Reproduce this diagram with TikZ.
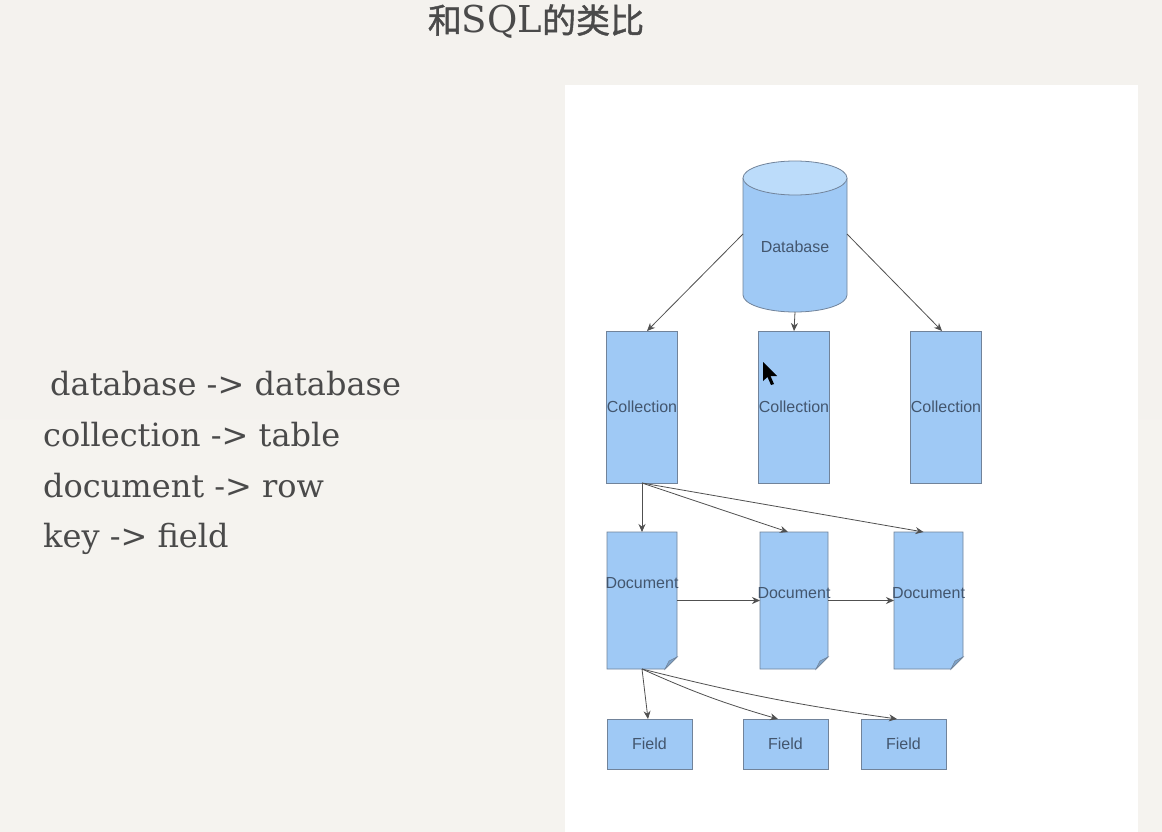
\documentclass[tikz,border=0pt]{standalone}
\usepackage{fontspec}
\setmainfont{DejaVu Serif}
\setsansfont{Liberation Sans}
\newfontfamily\cjk[FakeBold=1.2]{Noto Sans CJK SC}
\usetikzlibrary{arrows.meta,calc,backgrounds}
\definecolor{boxfill}{HTML}{9FC9F5}
\definecolor{boxtop}{HTML}{BCDCFA}
\definecolor{boxline}{HTML}{71839A}
\definecolor{boxtext}{HTML}{43566E}
\definecolor{foldcol}{HTML}{7FA3C8}
\definecolor{linecol}{HTML}{505050}
\definecolor{txtgray}{HTML}{4A4A4A}
\definecolor{bgtop}{HTML}{F4F2EE}
\definecolor{bgmid}{HTML}{E1DED8}
\definecolor{bgbot}{HTML}{F5F3EF}
\newcommand\docpath[1]{%
  \filldraw[shapestyle] (#1.north west) -- (#1.north east) -- ([yshift=12pt]#1.south east) -- ([xshift=-12pt]#1.south east) -- (#1.south west) -- cycle;
  \filldraw[foldstyle] ([yshift=12pt]#1.south east) -- ([xshift=-12pt]#1.south east) -- ([xshift=-8pt,yshift=8pt]#1.south east) -- cycle;
}
\begin{document}
\begin{tikzpicture}[x=1pt,y=-1pt,
  shapestyle/.style={fill=boxfill,draw=boxline,line width=0.8pt},
  foldstyle/.style={fill=foldcol,draw=boxline,line width=0.5pt},
  hold/.style={inner sep=0pt,outer sep=0pt,draw=none},
  lbl/.style={font=\sffamily\fontsize{16}{18}\selectfont,text=boxtext},
  collbox/.style={hold,lbl,minimum width=68pt,minimum height=152pt},
  docbox/.style={hold,minimum width=#1,minimum height=137pt},
  fieldbox/.style={hold,lbl,minimum width=85pt,minimum height=50pt},
  lefttext/.style={anchor=base west,inner sep=0pt,font=\fontsize{32}{38}\selectfont,text=txtgray},
  conn/.style={draw=linecol,line width=0.8pt,-{Stealth[length=8pt,width=7pt]}}
]
\useasboundingbox (0,0) rectangle (1162,832);

% title
\node[inner sep=0pt,anchor=base,text=txtgray] (title) at (536,33)
  {{\cjk\fontsize{34}{38}\selectfont 和}{\fontsize{37}{40}\selectfont SQL}{\cjk\fontsize{34}{38}\selectfont 的类比}};

% left text
\node[lefttext] (t1) at (50,395) {database -> database};
\node[lefttext] (t2) at (43,446) {collection -> table};
\node[lefttext] (t3) at (43,497) {document -> row};
\node[lefttext] (t4) at (43,547) {key -> field};

% nodes
\node[hold,minimum width=104pt,minimum height=152pt,label={[lbl,yshift=-11pt]center:Database}] (db) at (795,236) {};
\node[collbox] (c1) at (642,407) {Collection};
\node[collbox] (c2) at (794,407) {Collection};
\node[collbox] (c3) at (946,407) {Collection};
\node[docbox=70pt,label={[lbl,yshift=17.5pt]center:Document}] (d1) at (642,600.5) {};
\node[docbox=68pt,label={[lbl,yshift=7.5pt]center:Document}] (d2) at (794,600.5) {};
\node[docbox=69pt,label={[lbl,yshift=7.5pt]center:Document}] (d3) at (928.5,600.5) {};
\node[fieldbox] (f1) at (649.5,744) {Field};
\node[fieldbox] (f2) at (785.5,744) {Field};
\node[fieldbox] (f3) at (903.5,744) {Field};

\begin{pgfonlayer}{background}
  \shade[top color=bgtop,middle color=bgmid,bottom color=bgbot] (0,0) rectangle (1162,832);
  \fill[white] (565,85) rectangle (1138,832);
  % cylinder
  \filldraw[shapestyle] (743,178) -- (743,295) arc[start angle=180,end angle=360,x radius=52pt,y radius=17pt] -- (847,178);
  \filldraw[shapestyle,fill=boxtop] (795,178) ellipse[x radius=52pt,y radius=17pt];
  % collections and fields
  \foreach \n in {c1,c2,c3} {\filldraw[shapestyle] (\n.north west) rectangle (\n.south east);}
  \foreach \n in {f1,f2,f3} {\filldraw[shapestyle] (\n.north west) rectangle (\n.south east);}
  \docpath{d1}\docpath{d2}\docpath{d3}
\end{pgfonlayer}

% connectors
\draw[conn] ([yshift=2pt]db.west) -- ([xshift=5pt]c1.north);
\draw[conn] (db.south) -- (c2.north);
\draw[conn] ([yshift=2pt]db.east) -- ([xshift=-4pt]c3.north);
\draw[conn] (c1.south) -- (d1.north);
\draw[conn] (c1.south) -- ([xshift=-6pt]d2.north);
\draw[conn] (c1.south) -- ([xshift=-5pt]d3.north);
\draw[conn] (d1.east) -- (d2.west);
\draw[conn] (d2.east) -- (d3.west);
\draw[conn] (d1.south) -- ([xshift=-1.5pt]f1.north);
\draw[conn] (d1.south) to[bend right=4] ([xshift=-7.5pt]f2.north);
\draw[conn] (d1.south) to[bend right=3] ([xshift=-6.5pt]f3.north);

% mouse pointer
\fill[black] (763,362) -- (763,381) -- (767.5,377) -- (771,385) -- (774,384) -- (770.5,376) -- (777,376) -- cycle;
\end{tikzpicture}
\end{document}
